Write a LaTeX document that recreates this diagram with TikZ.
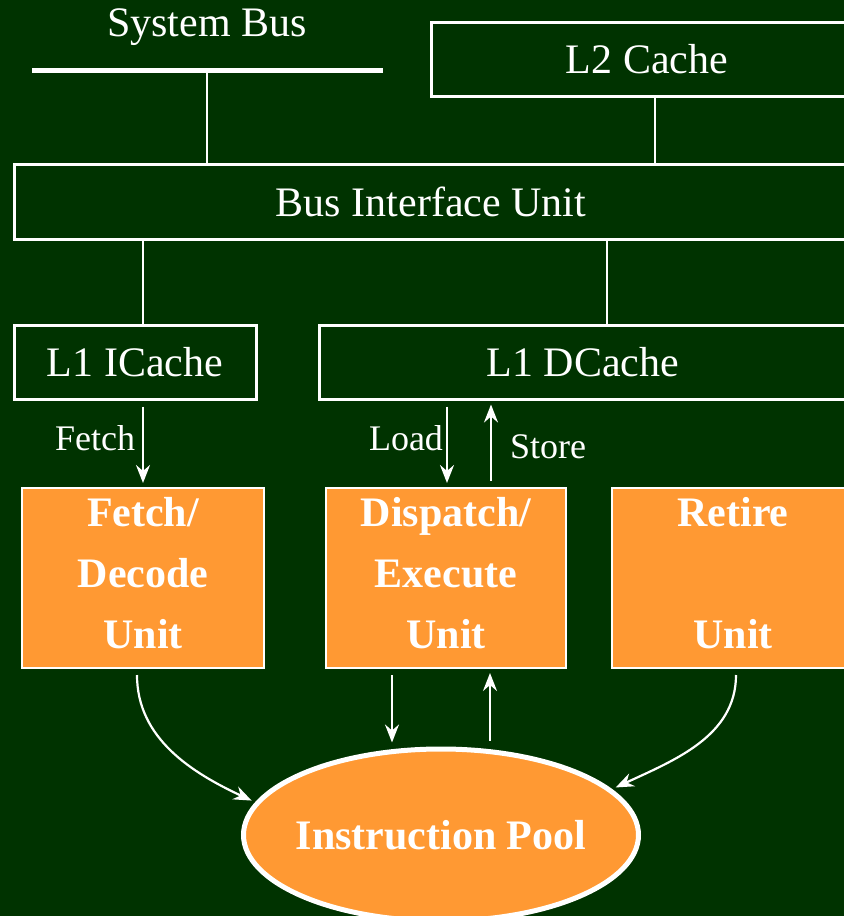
\documentclass[tikz,border=0pt]{standalone}
\usepackage{fontspec}
\setmainfont{Liberation Serif}
\usetikzlibrary{arrows.meta,shapes.geometric}
\definecolor{bggreen}{HTML}{003300}
\definecolor{unitorange}{HTML}{FF9933}

\begin{document}
\begin{tikzpicture}[x=0.5pt,y=0.5pt,
    >={Stealth[length=9pt,width=7pt,inset=3pt]}]

        \useasboundingbox (0,0) rectangle (844,-916);
        \fill[bggreen] (0,0) rectangle (844,-916);
        \clip (0,0) rectangle (844,-916);

        \begin{scope}[every node/.style={rectangle, draw=white, line width=1.5pt, text=white,
            inner sep=0pt, minimum height=37pt, font=\fontsize{21}{25}\selectfont}]
          \node[minimum width=216pt] (l2)  at (647,-59)  {L2 Cache};
          \node[minimum width=417pt, minimum height=37.5pt] (biu) at (431,-202) {Bus Interface Unit};
          \node[minimum width=121pt] (l1i) at (135,-362) {L1 ICache};
          \node[minimum width=264pt] (l1d) at (583,-362) {L1 DCache};
        \end{scope}

        \begin{scope}[every node/.style={rectangle, draw=white, line width=1pt, fill=unitorange,
            text=white, inner sep=0pt, minimum width=121pt, minimum height=90pt}]
          \node (fd) at (143,-578) {};
          \node[minimum width=120pt] (dx) at (446,-578) {};
          \node (rt) at (733,-578) {};
        \end{scope}

        \begin{scope}[every node/.style={text=white, align=center,
            font=\fontsize{21}{30.5}\selectfont\bfseries}]
          \node (fdtxt) at (143,-573) {Fetch/\\Decode\\Unit};
          \node (dxtxt) at (446,-573) {Dispatch/\\Execute\\Unit};
          \node (rttxt) at (733,-573) {Retire\\\mbox{}\\Unit};
        \end{scope}

        \node[ellipse, draw=white, line width=2.5pt, fill=unitorange, text=white,
          inner xsep=-20pt, inner ysep=0pt, minimum width=197.5pt, minimum height=86pt,
          font=\fontsize{21}{25}\selectfont\bfseries]
          (pool) at (441,-835) {Instruction Pool};

        % system bus
        \node[text=white, font=\fontsize{21}{25}\selectfont] (sbtxt) at (207,-27) {System Bus};
        \coordinate (sbl) at (32,-70);
        \coordinate (sbr) at (383,-70);
        \coordinate (sbm) at (207,-70);
        \draw[white, line width=2.5pt] (sbl) -- (sbr);

        \coordinate (xl2)    at (655,0);
        \coordinate (xl1d)   at (607,0);
        \coordinate (xload)  at (447,0);
        \coordinate (xstore) at (491,0);
        \coordinate (xdown)  at (392,0);
        \coordinate (xup)    at (490,0);

        \begin{scope}[every node/.style={text=white, font=\fontsize{18}{22}\selectfont}]
          \node (fetchlbl) at (95,-438)  {Fetch};
          \node (loadlbl)  at (406,-438) {Load};
          \node (storelbl) at (548,-447) {Store};
        \end{scope}

        \begin{scope}[every edge/.style={draw=white, line width=1.1pt}]
          \path (sbm)            edge (sbm |- biu.north);
          \path (l2.south -| xl2) edge (biu.north -| xl2);
          \path (biu.south -| fd.north) edge (l1i.north -| fd.north);
          \path (biu.south -| xl1d) edge (l1d.north -| xl1d);
        \end{scope}

        \begin{scope}[every edge/.style={draw=white, line width=1.1pt, shorten <=3pt, shorten >=2pt}]
          \path (l1i.south -| fd.north) edge[->] (fd.north);
          \path (l1d.south -| xload)    edge[->] (dx.north -| xload);
          \path (dx.north -| xstore)    edge[->] (l1d.south -| xstore);
          \path (dx.south -| xdown)     edge[->] (pool.north -| xdown);
          \path (pool.north -| xup)     edge[->] (dx.south -| xup);
          \path ([xshift=-3pt]fd.south) edge[->, out=-90, in=155] (pool.170);
          \path ([xshift=1.5pt]rt.south) edge[->, out=-90, in=25] (pool.15);
        \end{scope}

      \end{tikzpicture}
\end{document}
